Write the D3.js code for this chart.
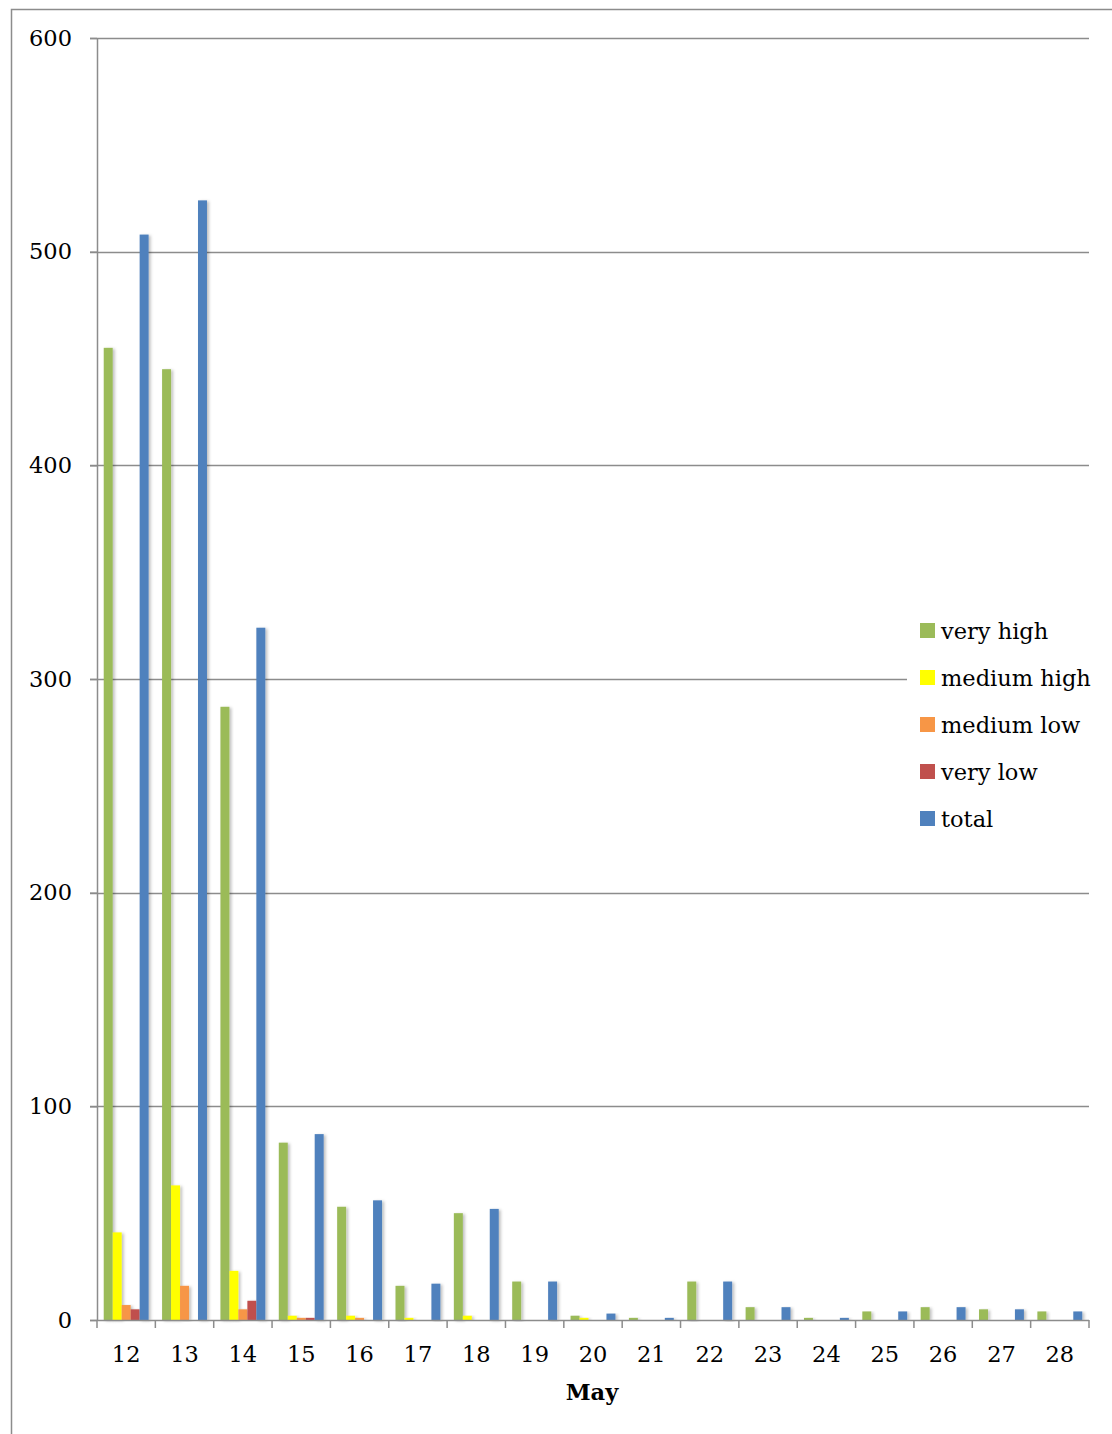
<!DOCTYPE html>
<html>
<head>
<meta charset="utf-8">
<script src="https://cdn.jsdelivr.net/npm/d3@7"></script>
<style>
  html, body { margin: 0; padding: 0; background: #fff; }
  svg { display: block; }
  text { font-family: "DejaVu Serif", "Liberation Serif", serif; fill: #000; }
</style>
</head>
<body>
<svg id="chart" width="1112" height="1434"></svg>
<script>
// Days of May
const days = ["12","13","14","15","16","17","18","19","20","21","22","23","24","25","26","27","28"];
const seriesNames = ["very high", "medium high", "medium low", "very low", "total"];
const veryHigh   = [455, 445, 287, 83, 53, 16, 50, 18, 2, 1, 18, 6, 1, 4, 6, 5, 4];
const mediumHigh = [41, 63, 23, 2, 2, 1, 2, 0, 1, 0, 0, 0, 0, 0, 0, 0, 0];
const mediumLow  = [7, 16, 5, 1, 1, 0, 0, 0, 0, 0, 0, 0, 0, 0, 0, 0, 0];
const veryLow    = [5, 0, 9, 1, 0, 0, 0, 0, 0, 0, 0, 0, 0, 0, 0, 0, 0];
const total      = [508, 524, 324, 87, 56, 17, 52, 18, 3, 1, 18, 6, 1, 4, 6, 5, 4];
const yTicks = [0, 100, 200, 300, 400, 500, 600];
const colors = ["#9BBB59", "#FFFF00", "#F79646", "#C0504D", "#4F81BD"];

const seriesValues = [veryHigh, mediumHigh, mediumLow, veryLow, total];
const fontSize = 22.5;

const svg = d3.select("#chart");

// outer frame
svg.append("rect").attr("x", 11.5).attr("y", 9.5).attr("width", 1200).attr("height", 1500)
  .attr("fill", "none").attr("stroke", "#8c8c8c").attr("stroke-width", 1.5);

const plotLeft = 97, plotRight = 1089, plotTop = 38, plotBottom = 1320;

const x = d3.scaleBand().domain(days).range([plotLeft, plotRight]).paddingInner(0).paddingOuter(0);
// 150% gap between groups: 5 bars plus 1.5 bar widths of gap
const barW = x.bandwidth() / 6.5;
const sub = d3.scaleBand().domain(seriesNames)
  .range([0.75 * barW, 0.75 * barW + 5 * barW]);

const y = d3.scaleLinear().domain([0, 600]).range([plotBottom, plotTop]);

const defs = svg.append("defs");
const f = defs.append("filter").attr("id", "shadow").attr("x", "-30%").attr("y", "-5%").attr("width", "180%").attr("height", "110%");
f.append("feDropShadow").attr("dx", 2).attr("dy", 1).attr("stdDeviation", 1.5)
  .attr("flood-color", "#000").attr("flood-opacity", 0.25);

// gridlines
svg.append("g").selectAll("line").data(yTicks.filter(d => d > 0)).join("line")
  .attr("x1", plotLeft - 7).attr("x2", plotRight)
  .attr("y1", d => Math.round(y(d)) + 0.5).attr("y2", d => Math.round(y(d)) + 0.5)
  .attr("stroke", "#8c8c8c").attr("stroke-width", 1.5);

// bars
const groups = svg.append("g").selectAll("g").data(days).join("g")
  .attr("transform", d => `translate(${x(d)},0)`);
groups.selectAll("rect")
  .data((d, i) => seriesNames.map((s, k) => ({ s, k, v: seriesValues[k][i] })).filter(e => e.v > 0))
  .join("rect")
  .attr("x", d => sub(d.s))
  .attr("width", sub.bandwidth())
  .attr("y", d => y(d.v))
  .attr("height", d => plotBottom - y(d.v))
  .attr("fill", d => colors[d.k])
  .attr("filter", "url(#shadow)");

// y axis
const yAxis = d3.axisLeft(y).tickValues(yTicks).tickSize(7).tickPadding(18).tickFormat(d3.format("d"));
const gy = svg.append("g").attr("transform", `translate(${plotLeft},0)`).call(yAxis);
gy.select(".domain").attr("stroke", "#8c8c8c").attr("stroke-width", 1.5).attr("d", `M0.5,${plotTop}V${plotBottom}`);
gy.selectAll(".tick line").attr("stroke", "#8c8c8c").attr("stroke-width", 1.5);
gy.selectAll(".tick text").attr("font-size", fontSize).attr("font-family", "DejaVu Serif");

// x axis line and category boundary ticks
const gx = svg.append("g");
gx.append("line").attr("x1", plotLeft - 7).attr("x2", plotRight).attr("y1", plotBottom + 0.5).attr("y2", plotBottom + 0.5)
  .attr("stroke", "#8c8c8c").attr("stroke-width", 1.5);
const bounds = days.map(d => x(d)).concat([plotRight]);
gx.selectAll("line.b").data(bounds).join("line").attr("class", "b")
  .attr("x1", d => d).attr("x2", d => d).attr("y1", plotBottom).attr("y2", plotBottom + 8)
  .attr("stroke", "#8c8c8c").attr("stroke-width", 1.5);
gx.selectAll("text").data(days).join("text")
  .attr("x", d => x(d) + x.bandwidth() / 2).attr("y", 1362)
  .attr("text-anchor", "middle").attr("font-size", fontSize).text(d => d);

svg.append("text").attr("x", 592).attr("y", 1400).attr("text-anchor", "middle")
  .attr("font-size", fontSize).attr("font-weight", "bold").text("May");

// legend
const lg = svg.append("g");
lg.append("rect").attr("x", 907).attr("y", 605).attr("width", 200).attr("height", 235).attr("fill", "#fff");
const items = lg.selectAll("g").data(seriesNames).join("g")
  .attr("transform", (d, i) => `translate(920,${631 + i * 47})`);
items.append("rect").attr("x", 0).attr("y", -8).attr("width", 15).attr("height", 15)
  .attr("fill", (d, i) => colors[i]);
items.append("text").attr("x", 21).attr("y", 8).attr("font-size", fontSize).text(d => d);
</script>
</body>
</html>
